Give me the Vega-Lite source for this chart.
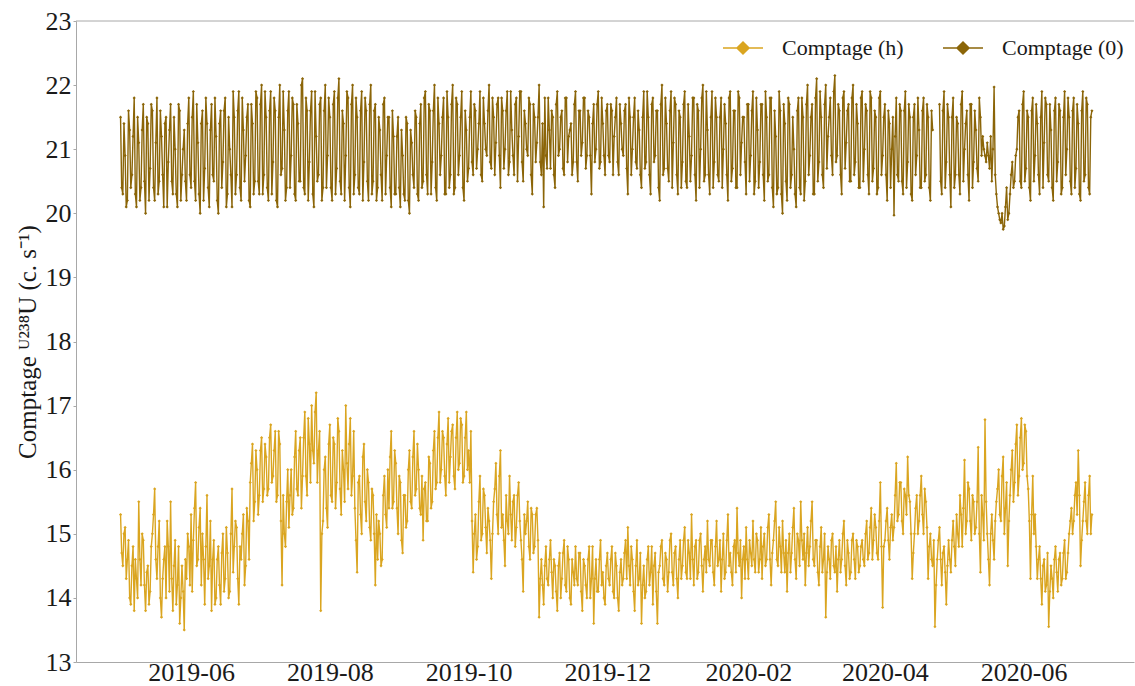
{
"$schema": "https://vega.github.io/schema/vega-lite/v6.json",
"width": 1058, "height": 641,
"autosize": {"type": "none"},
"padding": {"left": 76, "top": 21, "right": 1, "bottom": 24},
"background": "white",
"config": {"font": "Liberation Serif", "view": {"stroke": null},
 "axis": {"domainColor": "#a8a8a8", "tickColor": "#a8a8a8", "grid": false, "labelFontSize": 26, "labelColor": "#1a1a1a", "titleColor": "#1a1a1a", "labelFont": "Liberation Serif", "titleFont": "Liberation Serif", "labelFlush": false, "labelOverlap": false}},
"data": {"values": [
{"d":"2019-05-01","h":15.3,"z":21.5},{"d":"2019-05-02","h":14.5,"z":20.3},{"d":"2019-05-03","h":15.1,"z":20.9},{"d":"2019-05-04","h":14.6,"z":20.2},{"d":"2019-05-05","h":14.0,"z":21.3},{"d":"2019-05-06","h":14.5,"z":20.6},{"d":"2019-05-07","h":13.8,"z":21.8},{"d":"2019-05-08","h":14.3,"z":20.1},{"d":"2019-05-09","h":15.5,"z":21.1},{"d":"2019-05-10","h":14.2,"z":20.4},
{"d":"2019-05-11","h":14.9,"z":21.7},{"d":"2019-05-12","h":13.8,"z":20.0},{"d":"2019-05-13","h":14.5,"z":21.4},{"d":"2019-05-14","h":14.1,"z":20.7},{"d":"2019-05-15","h":15.0,"z":21.6},{"d":"2019-05-16","h":15.7,"z":20.2},{"d":"2019-05-17","h":14.3,"z":21.8},{"d":"2019-05-18","h":15.2,"z":20.5},{"d":"2019-05-19","h":13.7,"z":21.2},{"d":"2019-05-20","h":14.6,"z":20.1},
{"d":"2019-05-21","h":14.0,"z":21.5},{"d":"2019-05-22","h":14.8,"z":20.8},{"d":"2019-05-23","h":15.5,"z":21.7},{"d":"2019-05-24","h":13.8,"z":20.3},{"d":"2019-05-25","h":14.9,"z":21.0},{"d":"2019-05-26","h":14.2,"z":20.1},{"d":"2019-05-27","h":13.6,"z":21.6},{"d":"2019-05-28","h":14.5,"z":20.6},{"d":"2019-05-29","h":13.5,"z":21.3},{"d":"2019-05-30","h":14.3,"z":20.2},{"d":"2019-05-31","h":14.8,"z":21.8},
{"d":"2019-06-01","h":15.3,"z":20.4},{"d":"2019-06-02","h":14.9,"z":21.9},{"d":"2019-06-03","h":15.8,"z":20.2},{"d":"2019-06-04","h":14.6,"z":21.1},{"d":"2019-06-05","h":15.4,"z":20.0},{"d":"2019-06-06","h":15.0,"z":21.6},{"d":"2019-06-07","h":13.9,"z":20.7},{"d":"2019-06-08","h":15.6,"z":21.4},{"d":"2019-06-09","h":14.5,"z":20.1},{"d":"2019-06-10","h":13.8,"z":21.7},
{"d":"2019-06-11","h":14.9,"z":20.5},{"d":"2019-06-12","h":14.0,"z":21.2},{"d":"2019-06-13","h":14.8,"z":20.0},{"d":"2019-06-14","h":13.9,"z":21.6},{"d":"2019-06-15","h":15.0,"z":20.8},{"d":"2019-06-16","h":14.3,"z":21.8},{"d":"2019-06-17","h":14.7,"z":20.3},{"d":"2019-06-18","h":14.1,"z":21.0},{"d":"2019-06-19","h":15.7,"z":20.1},{"d":"2019-06-20","h":14.8,"z":21.5},
{"d":"2019-06-21","h":15.1,"z":20.6},{"d":"2019-06-22","h":13.9,"z":21.9},{"d":"2019-06-23","h":14.6,"z":20.2},{"d":"2019-06-24","h":15.3,"z":21.3},{"d":"2019-06-25","h":14.5,"z":20.9},{"d":"2019-06-26","h":15.2,"z":21.7},{"d":"2019-06-27","h":15.8,"z":20.1},{"d":"2019-06-28","h":16.4,"z":21.4},{"d":"2019-06-29","h":15.5,"z":20.5},{"d":"2019-06-30","h":16.0,"z":21.8},
{"d":"2019-07-01","h":15.6,"z":20.3},{"d":"2019-07-02","h":16.5,"z":22.0},{"d":"2019-07-03","h":15.7,"z":20.6},{"d":"2019-07-04","h":16.2,"z":21.5},{"d":"2019-07-05","h":15.7,"z":20.2},{"d":"2019-07-06","h":16.7,"z":21.9},{"d":"2019-07-07","h":15.9,"z":20.8},{"d":"2019-07-08","h":16.6,"z":21.6},{"d":"2019-07-09","h":15.6,"z":20.1},{"d":"2019-07-10","h":16.4,"z":22.0},
{"d":"2019-07-11","h":14.2,"z":20.7},{"d":"2019-07-12","h":15.0,"z":21.3},{"d":"2019-07-13","h":15.5,"z":20.4},{"d":"2019-07-14","h":15.1,"z":21.9},{"d":"2019-07-15","h":16.0,"z":20.9},{"d":"2019-07-16","h":15.4,"z":21.7},{"d":"2019-07-17","h":16.6,"z":20.2},{"d":"2019-07-18","h":15.6,"z":21.4},{"d":"2019-07-19","h":16.5,"z":20.5},{"d":"2019-07-20","h":15.9,"z":22.1},
{"d":"2019-07-21","h":16.9,"z":20.3},{"d":"2019-07-22","h":15.6,"z":21.6},{"d":"2019-07-23","h":16.4,"z":20.8},{"d":"2019-07-24","h":17.0,"z":21.9},{"d":"2019-07-25","h":16.1,"z":20.1},{"d":"2019-07-26","h":17.2,"z":21.2},{"d":"2019-07-27","h":16.3,"z":20.6},{"d":"2019-07-28","h":13.8,"z":21.8},{"d":"2019-07-29","h":15.2,"z":20.4},{"d":"2019-07-30","h":16.2,"z":22.0},{"d":"2019-07-31","h":15.1,"z":20.9},
{"d":"2019-08-01","h":16.7,"z":21.5},{"d":"2019-08-02","h":15.5,"z":20.2},{"d":"2019-08-03","h":16.4,"z":21.9},{"d":"2019-08-04","h":15.8,"z":20.7},{"d":"2019-08-05","h":16.6,"z":22.1},{"d":"2019-08-06","h":15.3,"z":20.3},{"d":"2019-08-07","h":16.0,"z":21.4},{"d":"2019-08-08","h":17.0,"z":20.9},{"d":"2019-08-09","h":15.7,"z":21.8},{"d":"2019-08-10","h":16.8,"z":20.1},
{"d":"2019-08-11","h":15.9,"z":22.0},{"d":"2019-08-12","h":15.4,"z":20.6},{"d":"2019-08-13","h":14.4,"z":21.5},{"d":"2019-08-14","h":15.9,"z":20.3},{"d":"2019-08-15","h":15.0,"z":21.9},{"d":"2019-08-16","h":16.4,"z":20.8},{"d":"2019-08-17","h":15.2,"z":21.6},{"d":"2019-08-18","h":15.8,"z":20.2},{"d":"2019-08-19","h":14.9,"z":22.0},{"d":"2019-08-20","h":15.6,"z":20.5},
{"d":"2019-08-21","h":14.2,"z":21.7},{"d":"2019-08-22","h":14.6,"z":20.4},{"d":"2019-08-23","h":15.0,"z":21.3},{"d":"2019-08-24","h":14.6,"z":20.2},{"d":"2019-08-25","h":15.9,"z":21.8},{"d":"2019-08-26","h":15.1,"z":20.9},{"d":"2019-08-27","h":15.4,"z":21.5},{"d":"2019-08-28","h":16.6,"z":20.1},{"d":"2019-08-29","h":15.5,"z":21.2},{"d":"2019-08-30","h":16.1,"z":20.3},{"d":"2019-08-31","h":15.0,"z":21.5},
{"d":"2019-09-01","h":15.8,"z":20.1},{"d":"2019-09-02","h":14.7,"z":20.9},{"d":"2019-09-03","h":15.6,"z":20.2},{"d":"2019-09-04","h":15.2,"z":21.4},{"d":"2019-09-05","h":16.3,"z":20.0},{"d":"2019-09-06","h":15.4,"z":21.1},{"d":"2019-09-07","h":16.6,"z":20.4},{"d":"2019-09-08","h":15.7,"z":21.5},{"d":"2019-09-09","h":16.0,"z":20.2},{"d":"2019-09-10","h":15.3,"z":21.7},
{"d":"2019-09-11","h":14.9,"z":20.5},{"d":"2019-09-12","h":15.8,"z":21.9},{"d":"2019-09-13","h":15.2,"z":20.3},{"d":"2019-09-14","h":16.1,"z":21.6},{"d":"2019-09-15","h":15.5,"z":20.8},{"d":"2019-09-16","h":16.6,"z":22.0},{"d":"2019-09-17","h":15.8,"z":20.2},{"d":"2019-09-18","h":16.9,"z":21.4},{"d":"2019-09-19","h":16.0,"z":20.9},{"d":"2019-09-20","h":16.5,"z":21.8},
{"d":"2019-09-21","h":15.6,"z":20.3},{"d":"2019-09-22","h":16.8,"z":21.5},{"d":"2019-09-23","h":16.2,"z":20.6},{"d":"2019-09-24","h":16.7,"z":22.0},{"d":"2019-09-25","h":15.7,"z":20.4},{"d":"2019-09-26","h":16.9,"z":21.7},{"d":"2019-09-27","h":16.1,"z":20.9},{"d":"2019-09-28","h":16.7,"z":21.9},{"d":"2019-09-29","h":15.9,"z":20.2},{"d":"2019-09-30","h":16.9,"z":21.3},
{"d":"2019-10-01","h":16.3,"z":20.7},{"d":"2019-10-02","h":16.6,"z":21.9},{"d":"2019-10-03","h":14.4,"z":20.6},{"d":"2019-10-04","h":15.3,"z":21.6},{"d":"2019-10-05","h":14.8,"z":21.0},{"d":"2019-10-06","h":15.9,"z":21.9},{"d":"2019-10-07","h":15.0,"z":20.5},{"d":"2019-10-08","h":15.6,"z":21.4},{"d":"2019-10-09","h":14.7,"z":20.9},{"d":"2019-10-10","h":15.2,"z":22.0},
{"d":"2019-10-11","h":14.3,"z":20.7},{"d":"2019-10-12","h":15.5,"z":21.5},{"d":"2019-10-13","h":16.1,"z":21.1},{"d":"2019-10-14","h":15.0,"z":21.8},{"d":"2019-10-15","h":16.3,"z":20.4},{"d":"2019-10-16","h":15.3,"z":21.6},{"d":"2019-10-17","h":14.5,"z":21.0},{"d":"2019-10-18","h":15.2,"z":21.9},{"d":"2019-10-19","h":15.9,"z":20.8},{"d":"2019-10-20","h":14.9,"z":21.3},
{"d":"2019-10-21","h":15.6,"z":20.6},{"d":"2019-10-22","h":15.1,"z":21.8},{"d":"2019-10-23","h":15.8,"z":21.2},{"d":"2019-10-24","h":14.9,"z":21.9},{"d":"2019-10-25","h":14.1,"z":20.5},{"d":"2019-10-26","h":15.0,"z":21.4},{"d":"2019-10-27","h":15.5,"z":20.9},{"d":"2019-10-28","h":14.6,"z":21.7},{"d":"2019-10-29","h":15.3,"z":20.3},{"d":"2019-10-30","h":14.8,"z":21.5},{"d":"2019-10-31","h":15.4,"z":21.1},
{"d":"2019-11-01","h":13.7,"z":22.0},{"d":"2019-11-02","h":14.6,"z":20.6},{"d":"2019-11-03","h":13.9,"z":20.1},{"d":"2019-11-04","h":14.8,"z":20.9},{"d":"2019-11-05","h":14.2,"z":21.8},{"d":"2019-11-06","h":14.9,"z":20.7},{"d":"2019-11-07","h":14.0,"z":21.5},{"d":"2019-11-08","h":14.5,"z":20.4},{"d":"2019-11-09","h":13.8,"z":21.9},{"d":"2019-11-10","h":14.7,"z":21.0},
{"d":"2019-11-11","h":14.3,"z":21.6},{"d":"2019-11-12","h":14.9,"z":20.6},{"d":"2019-11-13","h":14.1,"z":21.8},{"d":"2019-11-14","h":14.6,"z":21.2},{"d":"2019-11-15","h":13.9,"z":21.4},{"d":"2019-11-16","h":14.4,"z":20.8},{"d":"2019-11-17","h":14.8,"z":21.9},{"d":"2019-11-18","h":14.2,"z":20.5},{"d":"2019-11-19","h":14.7,"z":21.6},{"d":"2019-11-20","h":13.8,"z":21.1},
{"d":"2019-11-21","h":14.5,"z":21.8},{"d":"2019-11-22","h":14.0,"z":20.9},{"d":"2019-11-23","h":14.8,"z":21.5},{"d":"2019-11-24","h":14.3,"z":20.3},{"d":"2019-11-25","h":13.6,"z":21.7},{"d":"2019-11-26","h":14.6,"z":21.0},{"d":"2019-11-27","h":14.1,"z":21.9},{"d":"2019-11-28","h":14.9,"z":20.8},{"d":"2019-11-29","h":14.4,"z":21.4},{"d":"2019-11-30","h":13.9,"z":20.6},
{"d":"2019-12-01","h":14.7,"z":21.7},{"d":"2019-12-02","h":14.2,"z":20.8},{"d":"2019-12-03","h":14.8,"z":21.6},{"d":"2019-12-04","h":14.0,"z":21.2},{"d":"2019-12-05","h":14.5,"z":21.8},{"d":"2019-12-06","h":13.8,"z":20.6},{"d":"2019-12-07","h":14.6,"z":21.4},{"d":"2019-12-08","h":14.3,"z":20.9},{"d":"2019-12-09","h":14.9,"z":21.7},{"d":"2019-12-10","h":15.1,"z":20.3},
{"d":"2019-12-11","h":14.2,"z":21.5},{"d":"2019-12-12","h":14.6,"z":21.0},{"d":"2019-12-13","h":13.8,"z":21.8},{"d":"2019-12-14","h":14.9,"z":20.7},{"d":"2019-12-15","h":14.3,"z":21.3},{"d":"2019-12-16","h":13.6,"z":20.4},{"d":"2019-12-17","h":14.5,"z":21.9},{"d":"2019-12-18","h":14.1,"z":20.8},{"d":"2019-12-19","h":14.8,"z":21.5},{"d":"2019-12-20","h":14.4,"z":20.3},
{"d":"2019-12-21","h":13.9,"z":21.8},{"d":"2019-12-22","h":14.7,"z":20.9},{"d":"2019-12-23","h":13.6,"z":21.6},{"d":"2019-12-24","h":14.5,"z":20.2},{"d":"2019-12-25","h":14.9,"z":22.0},{"d":"2019-12-26","h":14.2,"z":20.7},{"d":"2019-12-27","h":14.6,"z":21.4},{"d":"2019-12-28","h":14.4,"z":20.5},{"d":"2019-12-29","h":15.0,"z":21.9},{"d":"2019-12-30","h":14.2,"z":21.1},{"d":"2019-12-31","h":14.8,"z":21.7},
{"d":"2020-01-01","h":14.0,"z":20.3},{"d":"2020-01-02","h":14.9,"z":21.5},{"d":"2020-01-03","h":14.5,"z":20.8},{"d":"2020-01-04","h":15.1,"z":21.9},{"d":"2020-01-05","h":14.3,"z":20.4},{"d":"2020-01-06","h":14.7,"z":21.2},{"d":"2020-01-07","h":15.3,"z":20.9},{"d":"2020-01-08","h":14.2,"z":21.8},{"d":"2020-01-09","h":14.9,"z":20.2},{"d":"2020-01-10","h":14.4,"z":21.6},
{"d":"2020-01-11","h":15.0,"z":21.0},{"d":"2020-01-12","h":14.1,"z":22.0},{"d":"2020-01-13","h":14.8,"z":20.6},{"d":"2020-01-14","h":15.2,"z":21.3},{"d":"2020-01-15","h":14.5,"z":20.3},{"d":"2020-01-16","h":14.9,"z":21.9},{"d":"2020-01-17","h":14.2,"z":20.8},{"d":"2020-01-18","h":15.2,"z":21.5},{"d":"2020-01-19","h":14.6,"z":20.5},{"d":"2020-01-20","h":14.1,"z":21.8},
{"d":"2020-01-21","h":15.0,"z":21.0},{"d":"2020-01-22","h":14.4,"z":21.4},{"d":"2020-01-23","h":15.3,"z":20.2},{"d":"2020-01-24","h":14.7,"z":21.9},{"d":"2020-01-25","h":14.2,"z":20.7},{"d":"2020-01-26","h":14.9,"z":21.6},{"d":"2020-01-27","h":15.4,"z":20.4},{"d":"2020-01-28","h":14.5,"z":21.8},{"d":"2020-01-29","h":14.0,"z":21.1},{"d":"2020-01-30","h":14.8,"z":21.5},{"d":"2020-01-31","h":15.1,"z":20.3},
{"d":"2020-02-01","h":14.3,"z":21.7},{"d":"2020-02-02","h":14.7,"z":20.9},{"d":"2020-02-03","h":15.2,"z":21.9},{"d":"2020-02-04","h":14.4,"z":20.5},{"d":"2020-02-05","h":14.9,"z":21.3},{"d":"2020-02-06","h":14.6,"z":20.8},{"d":"2020-02-07","h":14.3,"z":21.7},{"d":"2020-02-08","h":15.0,"z":20.2},{"d":"2020-02-09","h":14.6,"z":21.5},{"d":"2020-02-10","h":15.3,"z":20.6},
{"d":"2020-02-11","h":14.2,"z":21.8},{"d":"2020-02-12","h":14.9,"z":20.1},{"d":"2020-02-13","h":15.5,"z":21.2},{"d":"2020-02-14","h":14.5,"z":20.4},{"d":"2020-02-15","h":14.8,"z":21.6},{"d":"2020-02-16","h":15.2,"z":20.0},{"d":"2020-02-17","h":14.4,"z":21.4},{"d":"2020-02-18","h":14.1,"z":20.2},{"d":"2020-02-19","h":15.0,"z":21.7},{"d":"2020-02-20","h":14.7,"z":20.6},
{"d":"2020-02-21","h":15.4,"z":21.0},{"d":"2020-02-22","h":14.3,"z":20.1},{"d":"2020-02-23","h":14.9,"z":21.8},{"d":"2020-02-24","h":15.5,"z":20.3},{"d":"2020-02-25","h":14.6,"z":21.5},{"d":"2020-02-26","h":14.2,"z":20.5},{"d":"2020-02-27","h":15.1,"z":22.0},{"d":"2020-02-28","h":14.8,"z":20.9},{"d":"2020-02-29","h":15.5,"z":21.7},
{"d":"2020-03-01","h":14.5,"z":20.3},{"d":"2020-03-02","h":14.9,"z":22.1},{"d":"2020-03-03","h":14.2,"z":20.8},{"d":"2020-03-04","h":15.1,"z":21.5},{"d":"2020-03-05","h":14.6,"z":20.4},{"d":"2020-03-06","h":13.7,"z":22.0},{"d":"2020-03-07","h":14.8,"z":21.2},{"d":"2020-03-08","h":14.3,"z":21.8},{"d":"2020-03-09","h":15.0,"z":20.6},{"d":"2020-03-10","h":14.4,"z":22.15},
{"d":"2020-03-11","h":14.1,"z":20.9},{"d":"2020-03-12","h":14.9,"z":21.6},{"d":"2020-03-13","h":14.6,"z":20.3},{"d":"2020-03-14","h":15.2,"z":21.9},{"d":"2020-03-15","h":14.2,"z":21.1},{"d":"2020-03-16","h":14.7,"z":21.7},{"d":"2020-03-17","h":14.4,"z":20.5},{"d":"2020-03-18","h":15.0,"z":22.0},{"d":"2020-03-19","h":14.3,"z":20.8},{"d":"2020-03-20","h":14.8,"z":21.4},
{"d":"2020-03-21","h":14.5,"z":20.4},{"d":"2020-03-22","h":14.9,"z":21.9},{"d":"2020-03-23","h":14.5,"z":21.0},{"d":"2020-03-24","h":15.2,"z":21.6},{"d":"2020-03-25","h":14.7,"z":20.3},{"d":"2020-03-26","h":15.4,"z":21.8},{"d":"2020-03-27","h":14.9,"z":20.7},{"d":"2020-03-28","h":15.1,"z":21.5},{"d":"2020-03-29","h":14.6,"z":20.4},{"d":"2020-03-30","h":15.8,"z":21.9},{"d":"2020-03-31","h":13.85,"z":20.9},
{"d":"2020-04-01","h":14.9,"z":21.7},{"d":"2020-04-02","h":15.4,"z":20.2},{"d":"2020-04-03","h":14.6,"z":21.4},{"d":"2020-04-04","h":15.3,"z":21.0},{"d":"2020-04-05","h":15.1,"z":19.97},{"d":"2020-04-06","h":16.1,"z":21.8},{"d":"2020-04-07","h":15.3,"z":20.5},{"d":"2020-04-08","h":15.8,"z":21.6},{"d":"2020-04-09","h":15.0,"z":20.3},{"d":"2020-04-10","h":15.6,"z":21.9},
{"d":"2020-04-11","h":16.2,"z":20.8},{"d":"2020-04-12","h":15.5,"z":21.5},{"d":"2020-04-13","h":14.3,"z":20.2},{"d":"2020-04-14","h":15.0,"z":21.7},{"d":"2020-04-15","h":15.6,"z":20.9},{"d":"2020-04-16","h":15.2,"z":21.3},{"d":"2020-04-17","h":15.9,"z":20.4},{"d":"2020-04-18","h":15.0,"z":21.8},{"d":"2020-04-19","h":15.5,"z":20.6},{"d":"2020-04-20","h":14.3,"z":21.5},
{"d":"2020-04-21","h":15.0,"z":20.2},{"d":"2020-04-22","h":14.5,"z":21.3},{"d":"2020-04-23","h":13.55,"z":null},{"d":"2020-04-24","h":14.6,"z":null},{"d":"2020-04-25","h":15.1,"z":21.7},{"d":"2020-04-26","h":14.2,"z":20.3},{"d":"2020-04-27","h":14.8,"z":21.9},{"d":"2020-04-28","h":13.9,"z":20.8},{"d":"2020-04-29","h":14.9,"z":21.5},{"d":"2020-04-30","h":14.4,"z":20.1},
{"d":"2020-05-01","h":15.2,"z":21.8},{"d":"2020-05-02","h":14.5,"z":20.6},{"d":"2020-05-03","h":15.0,"z":21.4},{"d":"2020-05-04","h":15.6,"z":20.3},{"d":"2020-05-05","h":14.8,"z":21.9},{"d":"2020-05-06","h":16.15,"z":21.0},{"d":"2020-05-07","h":15.2,"z":21.6},{"d":"2020-05-08","h":15.7,"z":20.2},{"d":"2020-05-09","h":14.9,"z":21.7},{"d":"2020-05-10","h":15.5,"z":20.8},
{"d":"2020-05-11","h":15.1,"z":21.3},{"d":"2020-05-12","h":16.35,"z":20.5},{"d":"2020-05-13","h":14.4,"z":21.5},{"d":"2020-05-14","h":15.3,"z":21.2},{"d":"2020-05-15","h":16.78,"z":20.9},{"d":"2020-05-16","h":15.0,"z":21.1},{"d":"2020-05-17","h":14.2,"z":20.7},{"d":"2020-05-18","h":15.3,"z":20.5},{"d":"2020-05-19","h":14.6,"z":21.97},{"d":"2020-05-20","h":15.5,"z":20.3},
{"d":"2020-05-21","h":16.0,"z":20.0},{"d":"2020-05-22","h":15.2,"z":19.85},{"d":"2020-05-23","h":16.2,"z":19.75},{"d":"2020-05-24","h":15.4,"z":20.1},{"d":"2020-05-25","h":14.5,"z":19.9},{"d":"2020-05-26","h":15.6,"z":20.3},{"d":"2020-05-27","h":16.3,"z":20.8},{"d":"2020-05-28","h":15.8,"z":20.5},{"d":"2020-05-29","h":16.7,"z":21.0},{"d":"2020-05-30","h":15.9,"z":21.6},{"d":"2020-05-31","h":16.8,"z":20.4},
{"d":"2020-06-01","h":16.1,"z":21.9},{"d":"2020-06-02","h":16.6,"z":20.7},{"d":"2020-06-03","h":15.7,"z":21.5},{"d":"2020-06-04","h":14.3,"z":20.2},{"d":"2020-06-05","h":15.9,"z":21.8},{"d":"2020-06-06","h":15.3,"z":20.9},{"d":"2020-06-07","h":14.3,"z":21.4},{"d":"2020-06-08","h":14.8,"z":20.3},{"d":"2020-06-09","h":13.9,"z":21.9},{"d":"2020-06-10","h":14.6,"z":21.1},
{"d":"2020-06-11","h":14.2,"z":21.7},{"d":"2020-06-12","h":13.55,"z":20.5},{"d":"2020-06-13","h":14.5,"z":21.3},{"d":"2020-06-14","h":14.0,"z":20.2},{"d":"2020-06-15","h":14.8,"z":21.8},{"d":"2020-06-16","h":14.1,"z":20.8},{"d":"2020-06-17","h":14.7,"z":21.6},{"d":"2020-06-18","h":14.3,"z":20.4},{"d":"2020-06-19","h":14.9,"z":21.9},{"d":"2020-06-20","h":14.4,"z":21.0},
{"d":"2020-06-21","h":15.0,"z":21.5},{"d":"2020-06-22","h":15.4,"z":20.3},{"d":"2020-06-23","h":15.2,"z":21.8},{"d":"2020-06-24","h":15.8,"z":20.7},{"d":"2020-06-25","h":16.3,"z":21.4},{"d":"2020-06-26","h":14.5,"z":20.2},{"d":"2020-06-27","h":15.2,"z":21.9},{"d":"2020-06-28","h":15.8,"z":20.6},{"d":"2020-06-29","h":15.0,"z":21.7},{"d":"2020-06-30","h":15.9,"z":20.3},
{"d":"2020-07-01","h":15.3,"z":21.6},
{"d":"2019-05-01T12:00Z","h":14.7,"z":20.4},{"d":"2019-05-02T12:00Z","h":15.0,"z":21.4},{"d":"2019-05-03T12:00Z","h":14.3,"z":20.1},{"d":"2019-05-04T12:00Z","h":14.9,"z":21.6},{"d":"2019-05-05T12:00Z","h":13.9,"z":20.4},{"d":"2019-05-06T12:00Z","h":14.8,"z":21.2},{"d":"2019-05-07T12:00Z","h":14.6,"z":20.3},{"d":"2019-05-08T12:00Z","h":14.0,"z":21.5},{"d":"2019-05-09T12:00Z","h":14.6,"z":20.2},{"d":"2019-05-10T12:00Z","h":15.0,"z":21.3},
{"d":"2019-05-11T12:00Z","h":14.2,"z":20.5},{"d":"2019-05-12T12:00Z","h":14.4,"z":21.5},{"d":"2019-05-13T12:00Z","h":13.9,"z":20.2},{"d":"2019-05-14T12:00Z","h":14.8,"z":21.7},{"d":"2019-05-15T12:00Z","h":15.3,"z":20.4},{"d":"2019-05-16T12:00Z","h":14.6,"z":21.1},{"d":"2019-05-17T12:00Z","h":14.8,"z":20.3},{"d":"2019-05-18T12:00Z","h":14.0,"z":21.6},{"d":"2019-05-19T12:00Z","h":14.3,"z":20.6},{"d":"2019-05-20T12:00Z","h":14.8,"z":21.4},
{"d":"2019-05-21T12:00Z","h":15.2,"z":20.1},{"d":"2019-05-22T12:00Z","h":14.1,"z":21.3},{"d":"2019-05-23T12:00Z","h":14.3,"z":20.5},{"d":"2019-05-24T12:00Z","h":14.5,"z":21.5},{"d":"2019-05-25T12:00Z","h":13.9,"z":20.3},{"d":"2019-05-26T12:00Z","h":14.8,"z":21.7},{"d":"2019-05-27T12:00Z","h":14.0,"z":20.2},{"d":"2019-05-28T12:00Z","h":14.1,"z":21.0},{"d":"2019-05-29T12:00Z","h":14.6,"z":20.5},{"d":"2019-05-30T12:00Z","h":15.0,"z":21.4},{"d":"2019-05-31T12:00Z","h":14.2,"z":20.6},
{"d":"2019-06-01T12:00Z","h":14.1,"z":21.5},{"d":"2019-06-02T12:00Z","h":15.4,"z":20.5},{"d":"2019-06-03T12:00Z","h":14.5,"z":21.7},{"d":"2019-06-04T12:00Z","h":15.1,"z":20.3},{"d":"2019-06-05T12:00Z","h":14.2,"z":21.4},{"d":"2019-06-06T12:00Z","h":14.6,"z":20.2},{"d":"2019-06-07T12:00Z","h":14.8,"z":21.8},{"d":"2019-06-08T12:00Z","h":14.3,"z":20.4},{"d":"2019-06-09T12:00Z","h":15.2,"z":21.3},{"d":"2019-06-10T12:00Z","h":14.6,"z":20.6},
{"d":"2019-06-11T12:00Z","h":13.9,"z":21.8},{"d":"2019-06-12T12:00Z","h":14.6,"z":20.2},{"d":"2019-06-13T12:00Z","h":14.2,"z":21.4},{"d":"2019-06-14T12:00Z","h":14.7,"z":20.4},{"d":"2019-06-15T12:00Z","h":14.1,"z":21.6},{"d":"2019-06-16T12:00Z","h":15.1,"z":20.1},{"d":"2019-06-17T12:00Z","h":14.0,"z":21.5},{"d":"2019-06-18T12:00Z","h":15.0,"z":20.6},{"d":"2019-06-19T12:00Z","h":14.4,"z":21.9},{"d":"2019-06-20T12:00Z","h":15.2,"z":20.3},
{"d":"2019-06-21T12:00Z","h":14.3,"z":21.6},{"d":"2019-06-22T12:00Z","h":14.8,"z":20.4},{"d":"2019-06-23T12:00Z","h":15.0,"z":21.8},{"d":"2019-06-24T12:00Z","h":14.2,"z":20.5},{"d":"2019-06-25T12:00Z","h":15.4,"z":21.5},{"d":"2019-06-26T12:00Z","h":14.6,"z":20.2},{"d":"2019-06-27T12:00Z","h":16.1,"z":21.7},{"d":"2019-06-28T12:00Z","h":15.2,"z":20.3},{"d":"2019-06-29T12:00Z","h":16.3,"z":21.9},{"d":"2019-06-30T12:00Z","h":15.3,"z":20.5},
{"d":"2019-07-01T12:00Z","h":16.3,"z":21.7},{"d":"2019-07-02T12:00Z","h":15.5,"z":20.3},{"d":"2019-07-03T12:00Z","h":16.4,"z":21.9},{"d":"2019-07-04T12:00Z","h":15.6,"z":20.4},{"d":"2019-07-05T12:00Z","h":16.5,"z":21.6},{"d":"2019-07-06T12:00Z","h":15.8,"z":20.3},{"d":"2019-07-07T12:00Z","h":16.3,"z":21.8},{"d":"2019-07-08T12:00Z","h":15.5,"z":20.2},{"d":"2019-07-09T12:00Z","h":16.6,"z":21.5},{"d":"2019-07-10T12:00Z","h":15.2,"z":20.6},
{"d":"2019-07-11T12:00Z","h":15.6,"z":21.9},{"d":"2019-07-12T12:00Z","h":14.8,"z":20.2},{"d":"2019-07-13T12:00Z","h":16.0,"z":21.6},{"d":"2019-07-14T12:00Z","h":15.6,"z":20.4},{"d":"2019-07-15T12:00Z","h":15.3,"z":21.8},{"d":"2019-07-16T12:00Z","h":16.2,"z":20.3},{"d":"2019-07-17T12:00Z","h":15.7,"z":21.7},{"d":"2019-07-18T12:00Z","h":16.3,"z":20.5},{"d":"2019-07-19T12:00Z","h":15.4,"z":22.0},{"d":"2019-07-20T12:00Z","h":16.5,"z":20.4},
{"d":"2019-07-21T12:00Z","h":15.9,"z":21.8},{"d":"2019-07-22T12:00Z","h":16.8,"z":20.2},{"d":"2019-07-23T12:00Z","h":15.8,"z":21.6},{"d":"2019-07-24T12:00Z","h":16.3,"z":20.3},{"d":"2019-07-25T12:00Z","h":16.9,"z":21.9},{"d":"2019-07-26T12:00Z","h":15.8,"z":20.5},{"d":"2019-07-27T12:00Z","h":16.6,"z":21.7},{"d":"2019-07-28T12:00Z","h":15.0,"z":20.2},{"d":"2019-07-29T12:00Z","h":16.0,"z":21.6},{"d":"2019-07-30T12:00Z","h":15.4,"z":20.4},{"d":"2019-07-31T12:00Z","h":16.4,"z":21.8},
{"d":"2019-08-01T12:00Z","h":15.6,"z":20.4},{"d":"2019-08-02T12:00Z","h":16.5,"z":21.7},{"d":"2019-08-03T12:00Z","h":15.4,"z":20.3},{"d":"2019-08-04T12:00Z","h":16.8,"z":21.8},{"d":"2019-08-05T12:00Z","h":15.7,"z":20.5},{"d":"2019-08-06T12:00Z","h":16.3,"z":21.6},{"d":"2019-08-07T12:00Z","h":15.5,"z":20.2},{"d":"2019-08-08T12:00Z","h":16.1,"z":21.9},{"d":"2019-08-09T12:00Z","h":16.4,"z":20.4},{"d":"2019-08-10T12:00Z","h":15.6,"z":21.7},
{"d":"2019-08-11T12:00Z","h":16.6,"z":20.3},{"d":"2019-08-12T12:00Z","h":14.9,"z":21.8},{"d":"2019-08-13T12:00Z","h":15.8,"z":20.4},{"d":"2019-08-14T12:00Z","h":15.3,"z":21.6},{"d":"2019-08-15T12:00Z","h":16.2,"z":20.2},{"d":"2019-08-16T12:00Z","h":15.5,"z":21.8},{"d":"2019-08-17T12:00Z","h":16.0,"z":20.5},{"d":"2019-08-18T12:00Z","h":15.1,"z":21.7},{"d":"2019-08-19T12:00Z","h":15.7,"z":20.3},{"d":"2019-08-20T12:00Z","h":15.0,"z":21.6},
{"d":"2019-08-21T12:00Z","h":15.3,"z":20.2},{"d":"2019-08-22T12:00Z","h":15.2,"z":21.5},{"d":"2019-08-23T12:00Z","h":14.5,"z":20.6},{"d":"2019-08-24T12:00Z","h":15.6,"z":21.7},{"d":"2019-08-25T12:00Z","h":15.3,"z":20.3},{"d":"2019-08-26T12:00Z","h":16.0,"z":21.5},{"d":"2019-08-27T12:00Z","h":16.2,"z":20.4},{"d":"2019-08-28T12:00Z","h":15.4,"z":21.6},{"d":"2019-08-29T12:00Z","h":16.3,"z":20.3},{"d":"2019-08-30T12:00Z","h":15.4,"z":21.2},{"d":"2019-08-31T12:00Z","h":15.9,"z":20.4},
{"d":"2019-09-01T12:00Z","h":14.9,"z":21.3},{"d":"2019-09-02T12:00Z","h":15.6,"z":20.3},{"d":"2019-09-03T12:00Z","h":15.1,"z":21.5},{"d":"2019-09-04T12:00Z","h":16.0,"z":20.2},{"d":"2019-09-05T12:00Z","h":15.5,"z":21.3},{"d":"2019-09-06T12:00Z","h":16.2,"z":20.6},{"d":"2019-09-07T12:00Z","h":15.6,"z":21.6},{"d":"2019-09-08T12:00Z","h":16.4,"z":20.3},{"d":"2019-09-09T12:00Z","h":15.4,"z":21.4},{"d":"2019-09-10T12:00Z","h":15.9,"z":20.4},
{"d":"2019-09-11T12:00Z","h":15.7,"z":21.8},{"d":"2019-09-12T12:00Z","h":15.2,"z":20.6},{"d":"2019-09-13T12:00Z","h":16.2,"z":21.7},{"d":"2019-09-14T12:00Z","h":15.4,"z":20.3},{"d":"2019-09-15T12:00Z","h":16.3,"z":21.6},{"d":"2019-09-16T12:00Z","h":15.7,"z":20.4},{"d":"2019-09-17T12:00Z","h":16.5,"z":21.8},{"d":"2019-09-18T12:00Z","h":15.8,"z":20.6},{"d":"2019-09-19T12:00Z","h":16.6,"z":21.5},{"d":"2019-09-20T12:00Z","h":15.9,"z":20.3},
{"d":"2019-09-21T12:00Z","h":16.4,"z":21.9},{"d":"2019-09-22T12:00Z","h":15.8,"z":20.4},{"d":"2019-09-23T12:00Z","h":16.6,"z":21.7},{"d":"2019-09-24T12:00Z","h":15.9,"z":20.3},{"d":"2019-09-25T12:00Z","h":16.5,"z":21.8},{"d":"2019-09-26T12:00Z","h":16.0,"z":20.6},{"d":"2019-09-27T12:00Z","h":16.8,"z":21.5},{"d":"2019-09-28T12:00Z","h":15.8,"z":20.4},{"d":"2019-09-29T12:00Z","h":16.5,"z":21.6},{"d":"2019-09-30T12:00Z","h":16.0,"z":20.5},
{"d":"2019-10-01T12:00Z","h":15.8,"z":21.5},{"d":"2019-10-02T12:00Z","h":15.2,"z":20.8},{"d":"2019-10-03T12:00Z","h":15.0,"z":21.7},{"d":"2019-10-04T12:00Z","h":14.6,"z":20.7},{"d":"2019-10-05T12:00Z","h":15.5,"z":21.4},{"d":"2019-10-06T12:00Z","h":14.9,"z":20.6},{"d":"2019-10-07T12:00Z","h":15.7,"z":21.8},{"d":"2019-10-08T12:00Z","h":15.1,"z":21.0},{"d":"2019-10-09T12:00Z","h":15.4,"z":21.6},{"d":"2019-10-10T12:00Z","h":14.9,"z":20.8},
{"d":"2019-10-11T12:00Z","h":15.0,"z":21.8},{"d":"2019-10-12T12:00Z","h":15.7,"z":20.6},{"d":"2019-10-13T12:00Z","h":15.3,"z":21.7},{"d":"2019-10-14T12:00Z","h":15.9,"z":20.9},{"d":"2019-10-15T12:00Z","h":15.1,"z":21.8},{"d":"2019-10-16T12:00Z","h":14.9,"z":20.7},{"d":"2019-10-17T12:00Z","h":15.6,"z":21.6},{"d":"2019-10-18T12:00Z","h":15.0,"z":20.6},{"d":"2019-10-19T12:00Z","h":15.3,"z":21.9},{"d":"2019-10-20T12:00Z","h":15.5,"z":20.9},
{"d":"2019-10-21T12:00Z","h":14.8,"z":21.7},{"d":"2019-10-22T12:00Z","h":15.6,"z":20.5},{"d":"2019-10-23T12:00Z","h":15.2,"z":21.9},{"d":"2019-10-24T12:00Z","h":14.6,"z":20.8},{"d":"2019-10-25T12:00Z","h":15.3,"z":21.6},{"d":"2019-10-26T12:00Z","h":15.2,"z":21.0},{"d":"2019-10-27T12:00Z","h":14.8,"z":21.8},{"d":"2019-10-28T12:00Z","h":15.4,"z":20.6},{"d":"2019-10-29T12:00Z","h":14.7,"z":21.7},{"d":"2019-10-30T12:00Z","h":15.3,"z":20.8},{"d":"2019-10-31T12:00Z","h":14.9,"z":21.5},
{"d":"2019-11-01T12:00Z","h":14.3,"z":20.8},{"d":"2019-11-02T12:00Z","h":14.2,"z":21.4},{"d":"2019-11-03T12:00Z","h":14.5,"z":21.8},{"d":"2019-11-04T12:00Z","h":14.3,"z":20.7},{"d":"2019-11-05T12:00Z","h":14.6,"z":21.3},{"d":"2019-11-06T12:00Z","h":14.4,"z":21.6},{"d":"2019-11-07T12:00Z","h":14.6,"z":20.6},{"d":"2019-11-08T12:00Z","h":14.1,"z":21.7},{"d":"2019-11-09T12:00Z","h":14.5,"z":20.9},{"d":"2019-11-10T12:00Z","h":14.0,"z":21.5},
{"d":"2019-11-11T12:00Z","h":14.7,"z":20.7},{"d":"2019-11-12T12:00Z","h":14.2,"z":21.8},{"d":"2019-11-13T12:00Z","h":14.8,"z":20.8},{"d":"2019-11-14T12:00Z","h":14.0,"z":21.3},{"d":"2019-11-15T12:00Z","h":14.6,"z":20.6},{"d":"2019-11-16T12:00Z","h":14.2,"z":21.7},{"d":"2019-11-17T12:00Z","h":14.3,"z":20.8},{"d":"2019-11-18T12:00Z","h":14.7,"z":21.6},{"d":"2019-11-19T12:00Z","h":14.1,"z":20.9},{"d":"2019-11-20T12:00Z","h":14.6,"z":21.8},
{"d":"2019-11-21T12:00Z","h":14.2,"z":20.7},{"d":"2019-11-22T12:00Z","h":14.6,"z":21.6},{"d":"2019-11-23T12:00Z","h":14.0,"z":20.9},{"d":"2019-11-24T12:00Z","h":14.8,"z":21.4},{"d":"2019-11-25T12:00Z","h":14.3,"z":20.8},{"d":"2019-11-26T12:00Z","h":14.1,"z":21.7},{"d":"2019-11-27T12:00Z","h":14.6,"z":20.7},{"d":"2019-11-28T12:00Z","h":14.2,"z":21.8},{"d":"2019-11-29T12:00Z","h":14.0,"z":20.9},{"d":"2019-11-30T12:00Z","h":14.5,"z":21.6},
{"d":"2019-12-01T12:00Z","h":14.3,"z":20.9},{"d":"2019-12-02T12:00Z","h":14.6,"z":21.7},{"d":"2019-12-03T12:00Z","h":14.1,"z":20.6},{"d":"2019-12-04T12:00Z","h":14.7,"z":21.5},{"d":"2019-12-05T12:00Z","h":14.0,"z":20.8},{"d":"2019-12-06T12:00Z","h":14.4,"z":21.7},{"d":"2019-12-07T12:00Z","h":14.2,"z":21.0},{"d":"2019-12-08T12:00Z","h":14.7,"z":21.6},{"d":"2019-12-09T12:00Z","h":14.3,"z":20.7},{"d":"2019-12-10T12:00Z","h":14.5,"z":21.8},
{"d":"2019-12-11T12:00Z","h":14.8,"z":20.6},{"d":"2019-12-12T12:00Z","h":14.1,"z":21.5},{"d":"2019-12-13T12:00Z","h":14.5,"z":20.8},{"d":"2019-12-14T12:00Z","h":14.2,"z":21.6},{"d":"2019-12-15T12:00Z","h":14.7,"z":20.6},{"d":"2019-12-16T12:00Z","h":14.2,"z":21.5},{"d":"2019-12-17T12:00Z","h":14.0,"z":20.7},{"d":"2019-12-18T12:00Z","h":14.6,"z":21.9},{"d":"2019-12-19T12:00Z","h":14.2,"z":20.6},{"d":"2019-12-20T12:00Z","h":14.8,"z":21.7},
{"d":"2019-12-21T12:00Z","h":14.5,"z":20.8},{"d":"2019-12-22T12:00Z","h":14.1,"z":21.6},{"d":"2019-12-23T12:00Z","h":14.4,"z":20.4},{"d":"2019-12-24T12:00Z","h":14.8,"z":21.7},{"d":"2019-12-25T12:00Z","h":14.3,"z":20.6},{"d":"2019-12-26T12:00Z","h":14.7,"z":21.8},{"d":"2019-12-27T12:00Z","h":14.1,"z":20.7},{"d":"2019-12-28T12:00Z","h":14.9,"z":21.6},{"d":"2019-12-29T12:00Z","h":14.4,"z":20.4},{"d":"2019-12-30T12:00Z","h":14.7,"z":21.8},{"d":"2019-12-31T12:00Z","h":14.3,"z":20.6},
{"d":"2020-01-01T12:00Z","h":14.6,"z":21.6},{"d":"2020-01-02T12:00Z","h":14.3,"z":20.4},{"d":"2020-01-03T12:00Z","h":14.9,"z":21.7},{"d":"2020-01-04T12:00Z","h":14.4,"z":20.5},{"d":"2020-01-05T12:00Z","h":14.9,"z":21.7},{"d":"2020-01-06T12:00Z","h":14.3,"z":20.5},{"d":"2020-01-07T12:00Z","h":14.6,"z":21.8},{"d":"2020-01-08T12:00Z","h":14.8,"z":20.6},{"d":"2020-01-09T12:00Z","h":14.3,"z":21.7},{"d":"2020-01-10T12:00Z","h":14.9,"z":20.4},
{"d":"2020-01-11T12:00Z","h":14.5,"z":21.8},{"d":"2020-01-12T12:00Z","h":14.6,"z":20.5},{"d":"2020-01-13T12:00Z","h":14.4,"z":21.9},{"d":"2020-01-14T12:00Z","h":14.6,"z":20.6},{"d":"2020-01-15T12:00Z","h":14.9,"z":21.5},{"d":"2020-01-16T12:00Z","h":14.4,"z":20.4},{"d":"2020-01-17T12:00Z","h":14.8,"z":21.8},{"d":"2020-01-18T12:00Z","h":14.5,"z":20.6},{"d":"2020-01-19T12:00Z","h":14.9,"z":21.5},{"d":"2020-01-20T12:00Z","h":14.6,"z":20.4},
{"d":"2020-01-21T12:00Z","h":14.3,"z":21.7},{"d":"2020-01-22T12:00Z","h":14.9,"z":20.6},{"d":"2020-01-23T12:00Z","h":14.5,"z":21.8},{"d":"2020-01-24T12:00Z","h":14.4,"z":20.5},{"d":"2020-01-25T12:00Z","h":14.8,"z":21.6},{"d":"2020-01-26T12:00Z","h":14.4,"z":20.4},{"d":"2020-01-27T12:00Z","h":14.7,"z":21.9},{"d":"2020-01-28T12:00Z","h":14.9,"z":20.6},{"d":"2020-01-29T12:00Z","h":14.6,"z":21.5},{"d":"2020-01-30T12:00Z","h":14.3,"z":20.8},{"d":"2020-01-31T12:00Z","h":14.6,"z":21.7},
{"d":"2020-02-01T12:00Z","h":14.9,"z":20.5},{"d":"2020-02-02T12:00Z","h":14.5,"z":21.6},{"d":"2020-02-03T12:00Z","h":14.6,"z":20.3},{"d":"2020-02-04T12:00Z","h":15.0,"z":21.8},{"d":"2020-02-05T12:00Z","h":14.4,"z":20.4},{"d":"2020-02-06T12:00Z","h":15.1,"z":21.7},{"d":"2020-02-07T12:00Z","h":14.8,"z":20.6},{"d":"2020-02-08T12:00Z","h":14.5,"z":21.9},{"d":"2020-02-09T12:00Z","h":15.1,"z":20.5},{"d":"2020-02-10T12:00Z","h":14.6,"z":21.8},
{"d":"2020-02-11T12:00Z","h":14.7,"z":20.4},{"d":"2020-02-12T12:00Z","h":15.2,"z":21.6},{"d":"2020-02-13T12:00Z","h":14.6,"z":20.3},{"d":"2020-02-14T12:00Z","h":15.1,"z":21.9},{"d":"2020-02-15T12:00Z","h":14.4,"z":20.3},{"d":"2020-02-16T12:00Z","h":14.7,"z":21.7},{"d":"2020-02-17T12:00Z","h":14.9,"z":20.5},{"d":"2020-02-18T12:00Z","h":14.7,"z":21.8},{"d":"2020-02-19T12:00Z","h":14.4,"z":20.4},{"d":"2020-02-20T12:00Z","h":15.1,"z":21.5},
{"d":"2020-02-21T12:00Z","h":14.6,"z":20.3},{"d":"2020-02-22T12:00Z","h":15.0,"z":21.6},{"d":"2020-02-23T12:00Z","h":14.5,"z":20.4},{"d":"2020-02-24T12:00Z","h":14.9,"z":21.8},{"d":"2020-02-25T12:00Z","h":15.0,"z":20.2},{"d":"2020-02-26T12:00Z","h":14.7,"z":21.7},{"d":"2020-02-27T12:00Z","h":14.5,"z":20.6},{"d":"2020-02-28T12:00Z","h":15.2,"z":21.5},{"d":"2020-02-29T12:00Z","h":14.6,"z":20.3},
{"d":"2020-03-01T12:00Z","h":14.9,"z":21.8},{"d":"2020-03-02T12:00Z","h":14.4,"z":20.5},{"d":"2020-03-03T12:00Z","h":14.8,"z":21.9},{"d":"2020-03-04T12:00Z","h":14.4,"z":20.6},{"d":"2020-03-05T12:00Z","h":15.0,"z":21.7},{"d":"2020-03-06T12:00Z","h":14.4,"z":20.7},{"d":"2020-03-07T12:00Z","h":14.6,"z":21.5},{"d":"2020-03-08T12:00Z","h":14.9,"z":20.9},{"d":"2020-03-09T12:00Z","h":14.5,"z":21.9},{"d":"2020-03-10T12:00Z","h":14.8,"z":20.8},
{"d":"2020-03-11T12:00Z","h":14.6,"z":21.7},{"d":"2020-03-12T12:00Z","h":14.4,"z":20.6},{"d":"2020-03-13T12:00Z","h":15.0,"z":21.8},{"d":"2020-03-14T12:00Z","h":14.5,"z":20.7},{"d":"2020-03-15T12:00Z","h":14.9,"z":21.6},{"d":"2020-03-16T12:00Z","h":14.3,"z":20.5},{"d":"2020-03-17T12:00Z","h":14.9,"z":21.8},{"d":"2020-03-18T12:00Z","h":14.6,"z":20.6},{"d":"2020-03-19T12:00Z","h":14.9,"z":21.7},{"d":"2020-03-20T12:00Z","h":14.4,"z":20.4},
{"d":"2020-03-21T12:00Z","h":14.8,"z":21.8},{"d":"2020-03-22T12:00Z","h":14.6,"z":20.5},{"d":"2020-03-23T12:00Z","h":15.0,"z":21.7},{"d":"2020-03-24T12:00Z","h":14.6,"z":20.6},{"d":"2020-03-25T12:00Z","h":15.1,"z":21.9},{"d":"2020-03-26T12:00Z","h":14.6,"z":20.5},{"d":"2020-03-27T12:00Z","h":15.3,"z":21.6},{"d":"2020-03-28T12:00Z","h":14.7,"z":20.3},{"d":"2020-03-29T12:00Z","h":15.2,"z":21.8},{"d":"2020-03-30T12:00Z","h":14.8,"z":20.6},{"d":"2020-03-31T12:00Z","h":14.8,"z":21.5},
{"d":"2020-04-01T12:00Z","h":15.2,"z":20.6},{"d":"2020-04-02T12:00Z","h":14.9,"z":21.6},{"d":"2020-04-03T12:00Z","h":15.1,"z":20.4},{"d":"2020-04-04T12:00Z","h":14.9,"z":21.5},{"d":"2020-04-05T12:00Z","h":15.6,"z":21.2},{"d":"2020-04-06T12:00Z","h":15.2,"z":20.6},{"d":"2020-04-07T12:00Z","h":15.8,"z":21.7},{"d":"2020-04-08T12:00Z","h":15.2,"z":20.5},{"d":"2020-04-09T12:00Z","h":15.7,"z":21.6},{"d":"2020-04-10T12:00Z","h":15.3,"z":20.4},
{"d":"2020-04-11T12:00Z","h":15.6,"z":21.7},{"d":"2020-04-12T12:00Z","h":15.0,"z":20.3},{"d":"2020-04-13T12:00Z","h":14.7,"z":21.5},{"d":"2020-04-14T12:00Z","h":15.4,"z":20.6},{"d":"2020-04-15T12:00Z","h":15.0,"z":21.8},{"d":"2020-04-16T12:00Z","h":15.6,"z":20.4},{"d":"2020-04-17T12:00Z","h":15.3,"z":21.6},{"d":"2020-04-18T12:00Z","h":15.7,"z":20.5},{"d":"2020-04-19T12:00Z","h":15.1,"z":21.7},{"d":"2020-04-20T12:00Z","h":14.8,"z":20.4},
{"d":"2020-04-21T12:00Z","h":14.6,"z":21.6},{"d":"2020-04-22T12:00Z","h":14.9,"z":null},{"d":"2020-04-23T12:00Z","h":14.2,"z":null},{"d":"2020-04-24T12:00Z","h":14.9,"z":null},{"d":"2020-04-25T12:00Z","h":14.6,"z":20.5},{"d":"2020-04-26T12:00Z","h":14.7,"z":21.6},{"d":"2020-04-27T12:00Z","h":14.4,"z":20.4},{"d":"2020-04-28T12:00Z","h":14.5,"z":21.7},{"d":"2020-04-29T12:00Z","h":14.6,"z":20.6},{"d":"2020-04-30T12:00Z","h":14.9,"z":21.5},
{"d":"2020-05-01T12:00Z","h":14.8,"z":20.4},{"d":"2020-05-02T12:00Z","h":15.3,"z":21.5},{"d":"2020-05-03T12:00Z","h":14.8,"z":20.6},{"d":"2020-05-04T12:00Z","h":15.3,"z":21.7},{"d":"2020-05-05T12:00Z","h":15.4,"z":20.5},{"d":"2020-05-06T12:00Z","h":15.0,"z":21.4},{"d":"2020-05-07T12:00Z","h":15.8,"z":20.6},{"d":"2020-05-08T12:00Z","h":15.2,"z":21.7},{"d":"2020-05-09T12:00Z","h":15.6,"z":20.4},{"d":"2020-05-10T12:00Z","h":15.0,"z":21.6},
{"d":"2020-05-11T12:00Z","h":15.5,"z":20.7},{"d":"2020-05-12T12:00Z","h":15.0,"z":21.8},{"d":"2020-05-13T12:00Z","h":15.6,"z":20.9},{"d":"2020-05-14T12:00Z","h":14.9,"z":21.0},{"d":"2020-05-15T12:00Z","h":15.5,"z":20.8},{"d":"2020-05-16T12:00Z","h":14.6,"z":20.9},{"d":"2020-05-17T12:00Z","h":15.0,"z":21.2},{"d":"2020-05-18T12:00Z","h":14.9,"z":21.0},{"d":"2020-05-19T12:00Z","h":15.2,"z":20.6},{"d":"2020-05-20T12:00Z","h":15.7,"z":20.1},
{"d":"2020-05-21T12:00Z","h":15.3,"z":19.9},{"d":"2020-05-22T12:00Z","h":15.9,"z":20.0},{"d":"2020-05-23T12:00Z","h":15.0,"z":19.8},{"d":"2020-05-24T12:00Z","h":15.8,"z":20.4},{"d":"2020-05-25T12:00Z","h":15.2,"z":20.0},{"d":"2020-05-26T12:00Z","h":16.0,"z":20.6},{"d":"2020-05-27T12:00Z","h":15.5,"z":20.4},{"d":"2020-05-28T12:00Z","h":16.4,"z":20.9},{"d":"2020-05-29T12:00Z","h":15.6,"z":21.5},{"d":"2020-05-30T12:00Z","h":16.5,"z":20.5},{"d":"2020-05-31T12:00Z","h":16.0,"z":21.7},
{"d":"2020-06-01T12:00Z","h":16.7,"z":20.5},{"d":"2020-06-02T12:00Z","h":15.9,"z":21.6},{"d":"2020-06-03T12:00Z","h":15.2,"z":20.4},{"d":"2020-06-04T12:00Z","h":15.3,"z":21.6},{"d":"2020-06-05T12:00Z","h":15.0,"z":20.5},{"d":"2020-06-06T12:00Z","h":14.8,"z":21.7},{"d":"2020-06-07T12:00Z","h":14.6,"z":20.6},{"d":"2020-06-08T12:00Z","h":14.3,"z":21.5},{"d":"2020-06-09T12:00Z","h":14.5,"z":20.4},{"d":"2020-06-10T12:00Z","h":14.1,"z":21.8},
{"d":"2020-06-11T12:00Z","h":14.7,"z":20.6},{"d":"2020-06-12T12:00Z","h":14.1,"z":21.7},{"d":"2020-06-13T12:00Z","h":14.3,"z":20.4},{"d":"2020-06-14T12:00Z","h":14.6,"z":21.6},{"d":"2020-06-15T12:00Z","h":14.4,"z":20.5},{"d":"2020-06-16T12:00Z","h":14.6,"z":21.7},{"d":"2020-06-17T12:00Z","h":14.2,"z":20.3},{"d":"2020-06-18T12:00Z","h":14.7,"z":21.5},{"d":"2020-06-19T12:00Z","h":14.3,"z":20.6},{"d":"2020-06-20T12:00Z","h":14.7,"z":21.8},
{"d":"2020-06-21T12:00Z","h":15.2,"z":20.5},{"d":"2020-06-22T12:00Z","h":15.0,"z":21.6},{"d":"2020-06-23T12:00Z","h":15.6,"z":20.4},{"d":"2020-06-24T12:00Z","h":15.3,"z":21.7},{"d":"2020-06-25T12:00Z","h":15.6,"z":20.3},{"d":"2020-06-26T12:00Z","h":14.9,"z":21.6},{"d":"2020-06-27T12:00Z","h":15.5,"z":20.5},{"d":"2020-06-28T12:00Z","h":15.2,"z":21.8},{"d":"2020-06-29T12:00Z","h":15.6,"z":20.4},{"d":"2020-06-30T12:00Z","h":15.0,"z":21.5}
]},
"layer": [
 {"data": {"values": [{}]}, "mark": {"type": "rule", "color": "#a8a8a8", "strokeWidth": 1}, "encoding": {"y": {"datum": 23}}},
 {"transform": [{"fold": ["h", "z"], "as": ["s", "v"]}],
  "mark": {"type": "line", "strokeWidth": 1.4, "point": {"shape": "diamond", "size": 10, "filled": true}},
  "encoding": {
   "x": {"field": "d", "type": "temporal",
     "scale": {"type": "utc", "domain": [{"year": 2019, "month": 4, "date": 11, "hours": 10, "utc": true}, {"year": 2020, "month": 7, "date": 19, "hours": 12, "utc": true}]},
     "axis": {"title": null, "format": "%Y-%m", "tickSize": 4, "labelPadding": 14, "labelBaseline": "alphabetic",
       "values": [{"year": 2019, "month": 6, "date": 1, "utc": true}, {"year": 2019, "month": 8, "date": 1, "utc": true}, {"year": 2019, "month": 10, "date": 1, "utc": true}, {"year": 2019, "month": 12, "date": 1, "utc": true}, {"year": 2020, "month": 2, "date": 1, "utc": true}, {"year": 2020, "month": 4, "date": 1, "utc": true}, {"year": 2020, "month": 6, "date": 1, "utc": true}]}},
   "y": {"field": "v", "type": "quantitative", "scale": {"domain": [13, 23], "nice": false, "zero": false},
     "axis": {"values": [13, 14, 15, 16, 17, 18, 19, 20, 21, 22, 23], "format": "d", "title": "Comptage ᵁ²³⁸U (c. s⁻¹)", "titleFontSize": 25, "titleFontWeight": "normal", "tickSize": 3, "labelPadding": 2, "titlePadding": 5}},
   "color": {"field": "s", "type": "nominal", "scale": {"domain": ["h", "z"], "range": ["#DAA520", "#8B6508"]},
     "legend": {"orient": "none", "legendX": 646, "legendY": 6, "direction": "horizontal", "title": null,
       "labelFontSize": 22, "labelFont": "Liberation Serif", "labelColor": "#1a1a1a",
       "symbolType": "M-1,0H1M0,-0.3L0.3,0L0,0.3L-0.3,0Z", "symbolSize": 1600, "symbolStrokeWidth": 1.5,
       "labelOffset": 18, "columnPadding": 36,
       "labelExpr": "datum.value == 'h' ? 'Comptage (h)' : 'Comptage (0)'",
       "encode": {"symbols": {"update": {"fill": {"scale": "color", "field": "value"}, "fillOpacity": {"value": 1}}}}}}
  }}
]
}
